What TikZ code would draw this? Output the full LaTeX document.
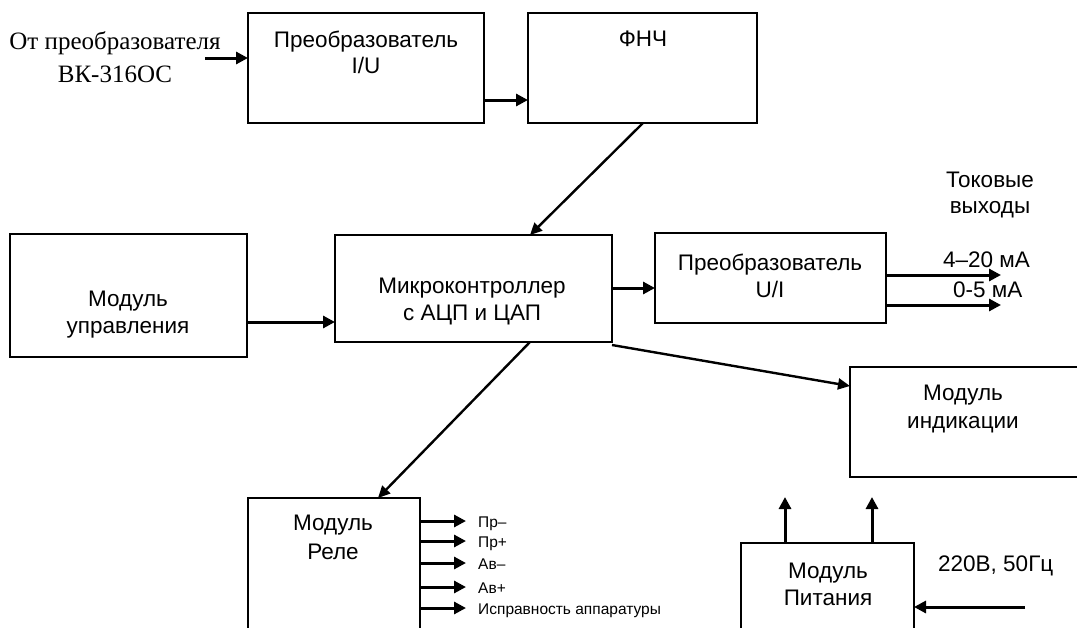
\documentclass[tikz,border=0pt]{standalone}
\usepackage{fontspec}
\setmainfont{Liberation Sans}
\newfontfamily\serifr{Liberation Serif}
\usetikzlibrary{arrows.meta}
\begin{document}
\begin{tikzpicture}[x=1pt,y=-1pt,
  blk/.style={draw,line width=1.3pt},
  txt/.style={font=\fontsize{22.5}{27}\selectfont,inner sep=0pt,anchor=base},
  stxt/.style={font=\serifr\fontsize{25}{30}\selectfont,inner sep=0pt,anchor=base},
  small/.style={font=\fontsize{15.5}{18}\selectfont,inner sep=0pt,anchor=base west},
  arr/.style={line width=3pt,-{Triangle[length=12pt,width=12pt]}},
  darr/.style={line width=2.4pt,-{Triangle[length=12pt,width=11pt]}}]
\clip (0,0) rectangle (1077,627);
\fill[white] (0,0) rectangle (1077,627);
% boxes
\draw[blk] (248,13) rectangle (484,123);
\draw[blk] (528,13) rectangle (757,123);
\draw[blk] (335,235) rectangle (612,342);
\draw[blk] (10,234) rectangle (247,357);
\draw[blk] (655,233) rectangle (886,323);
\draw[blk] (850,367) rectangle (1090,477);
\draw[blk] (248,498) rectangle (420,640);
\draw[blk] (741,543) rectangle (914,640);
% texts
\node[txt] (t1a) at (366,47) {Преобразователь};
\node[txt] (t1b) at (366,73) {I/U};
\node[txt] (t2) at (643,46) {ФНЧ};
\node[txt] (t3a) at (472,293) {Микроконтроллер};
\node[txt] (t3b) at (472,320) {с АЦП и ЦАП};
\node[txt] (t4a) at (128,306) {Модуль};
\node[txt] (t4b) at (128,333) {управления};
\node[txt] (t5a) at (770,270) {Преобразователь};
\node[txt] (t5b) at (770,297) {U/I};
\node[txt] (t6a) at (963,400) {Модуль};
\node[txt] (t6b) at (963,428) {индикации};
\node[txt] (t7a) at (333,530) {Модуль};
\node[txt] (t7b) at (333,559) {Реле};
\node[txt] (t8a) at (828,578) {Модуль};
\node[txt] (t8b) at (828,605) {Питания};
\node[stxt] (s1) at (115,49) {От преобразователя};
\node[stxt] (s2) at (115,82) {ВК-316ОС};
\node[txt] (tk1) at (990,187) {Токовые};
\node[txt] (tk2) at (990,213) {выходы};
\node[txt,anchor=base west] (o1) at (943,267) {4–20 мА};
\node[txt,anchor=base west] (o2) at (953,297) {0-5 мА};
\node[txt,anchor=base west] (pw) at (938,571) {220В, 50Гц};
% coordinates
\coordinate (in0) at (205,58); \coordinate (in1) at (248,58);
\coordinate (b1r) at (484,100); \coordinate (fl) at (528,100);
\coordinate (fb) at (643,123); \coordinate (fmc) at (530,235);
\coordinate (mu) at (247,322); \coordinate (mcl) at (335,322);
\coordinate (mcr) at (612,288); \coordinate (uil) at (655,288);
\coordinate (a1s) at (886,275); \coordinate (a1e) at (1001,275);
\coordinate (a2s) at (886,305); \coordinate (a2e) at (1001,305);
\coordinate (mci) at (612,345); \coordinate (ind) at (850,386);
\coordinate (mcb) at (530,342); \coordinate (rt) at (378,498);
\coordinate (p1) at (785,543); \coordinate (p1e) at (785,497);
\coordinate (p2) at (872,543); \coordinate (p2e) at (872,497);
\coordinate (acs) at (1025,607); \coordinate (ace) at (914,607);
% arrows
\draw[arr] (in0) -- (in1);
\draw[arr] (b1r) -- (fl);
\draw[darr] (fb) -- (fmc);
\draw[arr] (mu) -- (mcl);
\draw[arr] (mcr) -- (uil);
\draw[arr] (a1s) -- (a1e);
\draw[arr] (a2s) -- (a2e);
\draw[darr] (mci) -- (ind);
\draw[darr] (mcb) -- (rt);
\draw[arr] (p1) -- (p1e);
\draw[arr] (p2) -- (p2e);
\draw[arr] (acs) -- (ace);
% relay outputs
\foreach \y/\n/\t in {521/r1/Пр–, 541/r2/Пр+, 563/r3/Ав–, 587/r4/Ав+, 608/r5/Исправность аппаратуры}{
  \coordinate (\n s) at (420,\y); \coordinate (\n e) at (466,\y);
  \draw[arr] (\n s) -- (\n e);
  \node[small] (\n t) at (478,\y+6) {\t};
}
\end{tikzpicture}
\end{document}
